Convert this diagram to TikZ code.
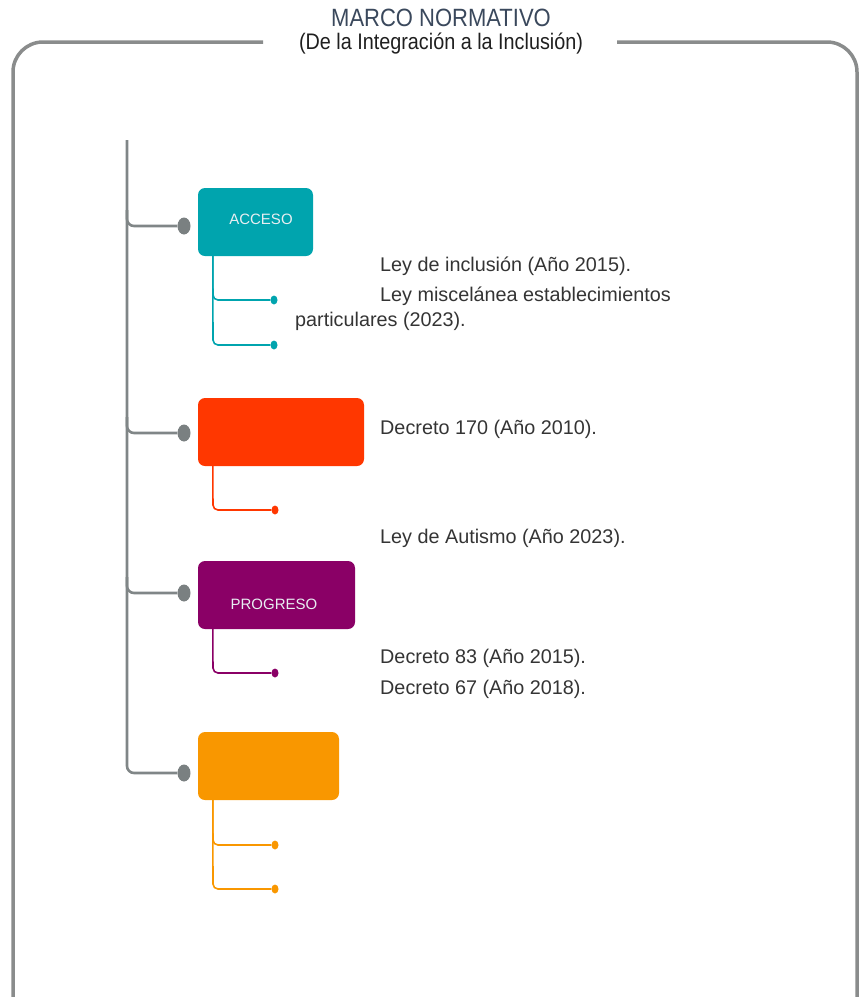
\documentclass[tikz,border=0pt]{standalone}
\usepackage{fontspec}
\setmainfont{Liberation Sans}
\newfontfamily\condfont{Liberation Sans}[FakeStretch=0.88]
\usetikzlibrary{shapes.geometric}
\definecolor{framegray}{RGB}{138,140,140}
\definecolor{trunkgray}{RGB}{128,134,135}
\definecolor{dotgray}{RGB}{122,128,129}
\definecolor{titlecol}{RGB}{58,72,92}
\definecolor{txtcol}{RGB}{52,52,52}
\definecolor{cteal}{RGB}{0,164,174}
\definecolor{cred}{RGB}{255,55,0}
\definecolor{cpurple}{RGB}{138,0,102}
\definecolor{corange}{RGB}{249,151,0}
\definecolor{lbl}{RGB}{232,238,242}
\tikzset{
  frameline/.style={draw=framegray, line width=3.5pt, rounded corners=30pt},
  trunkline/.style={draw=trunkgray, line width=2.6pt, rounded corners=7pt},
  catbox/.style={rectangle, rounded corners=7pt, inner sep=0pt, minimum height=68pt},
  gdot/.style={ellipse, fill=dotgray, inner sep=0pt, minimum width=13pt, minimum height=17pt},
  sdot/.style={ellipse, inner sep=0pt, minimum width=7pt, minimum height=9pt},
  subline/.style={line width=1.6pt, rounded corners=5pt},
  boxlabel/.style={text=lbl, font=\fontsize{15}{17}\selectfont, inner sep=0pt},
  law/.style={anchor=west, inner sep=0pt, text=txtcol, font=\fontsize{19.8}{22}\selectfont}
}
\begin{document}
\begin{tikzpicture}[x=1pt,y=-1pt]
\useasboundingbox (0,0) rectangle (860,997);
\clip (0,0) rectangle (860,997);

% title
\node[font=\condfont\fontsize{25}{27}\selectfont, text=titlecol, inner sep=0pt] (title) at (441,18) {MARCO NORMATIVO};
\node[font=\condfont\fontsize{22.5}{24}\selectfont, text=black!88, inner sep=0pt] (subtitle) at (441,43.5) {(De la Integración a la Inclusión)};

% frame
\coordinate (fl) at (263,42);
\coordinate (fr) at (617,42);
\draw[frameline] (fl) -- (13,42) -- (13,1040);
\draw[frameline] (fr) -- (857,42) -- (857,1040);

% category boxes
\node[catbox, fill=cteal, minimum width=115pt] (acceso) at (255.5,222) {};
\node[catbox, fill=cred, minimum width=166pt] (rojo) at (281,432) {};
\node[catbox, fill=cpurple, minimum width=157pt] (progreso) at (276.5,595) {};
\node[catbox, fill=corange, minimum width=141pt] (naranja) at (268.5,766) {};
\node[boxlabel] (accesolbl) at (261,219) {ACCESO};
\node[boxlabel] (progresolbl) at (274,604) {PROGRESO};

% grey dots and trunk
\node[gdot] (g1) at (184,226) {};
\node[gdot] (g2) at (184,433) {};
\node[gdot] (g3) at (184,593) {};
\node[gdot] (g4) at (184,773) {};
\coordinate (top) at (127,140);
\draw[trunkline] (top) -- (127,773) -- (g4);
\draw[trunkline] (127,210) -- (127,226) -- (g1);
\draw[trunkline] (127,417) -- (127,433) -- (g2);
\draw[trunkline] (127,577) -- (127,593) -- (g3);

% teal sub-branches
\coordinate (a0) at ([xshift=15pt]acceso.south west);
\node[sdot, fill=cteal] (a1) at (274,300) {};
\node[sdot, fill=cteal] (a2) at (274,345) {};
\draw[subline, cteal] (a0) -- (213,300) -- (a1);
\draw[subline, cteal] (a0) -- (213,345) -- (a2);

% red sub-branch
\coordinate (r0) at ([xshift=15pt]rojo.south west);
\node[sdot, fill=cred] (r1) at (275,510) {};
\draw[subline, cred] (r0) -- (213,510) -- (r1);

% purple sub-branch
\coordinate (p0) at ([xshift=15pt]progreso.south west);
\node[sdot, fill=cpurple] (p1) at (275,673) {};
\draw[subline, cpurple] (p0) -- (213,673) -- (p1);

% orange sub-branches
\coordinate (o0) at ([xshift=15pt]naranja.south west);
\node[sdot, fill=corange] (o1) at (275,845) {};
\node[sdot, fill=corange] (o2) at (275,889) {};
\draw[subline, corange] (o0) -- (213,845) -- (o1);
\draw[subline, corange] (o0) -- (213,889) -- (o2);

% laws
\node[law] (t1) at (380,266) {Ley de inclusión (Año 2015).};
\node[law] (t2) at (380,296) {Ley miscelánea establecimientos};
\node[law] (t3) at (295,321) {particulares (2023).};
\node[law] (t4) at (380,429) {Decreto 170 (Año 2010).};
\node[law] (t5) at (380,538) {Ley de Autismo (Año 2023).};
\node[law] (t6) at (380,658) {Decreto 83 (Año 2015).};
\node[law] (t7) at (380,689) {Decreto 67 (Año 2018).};
\end{tikzpicture}
\end{document}
